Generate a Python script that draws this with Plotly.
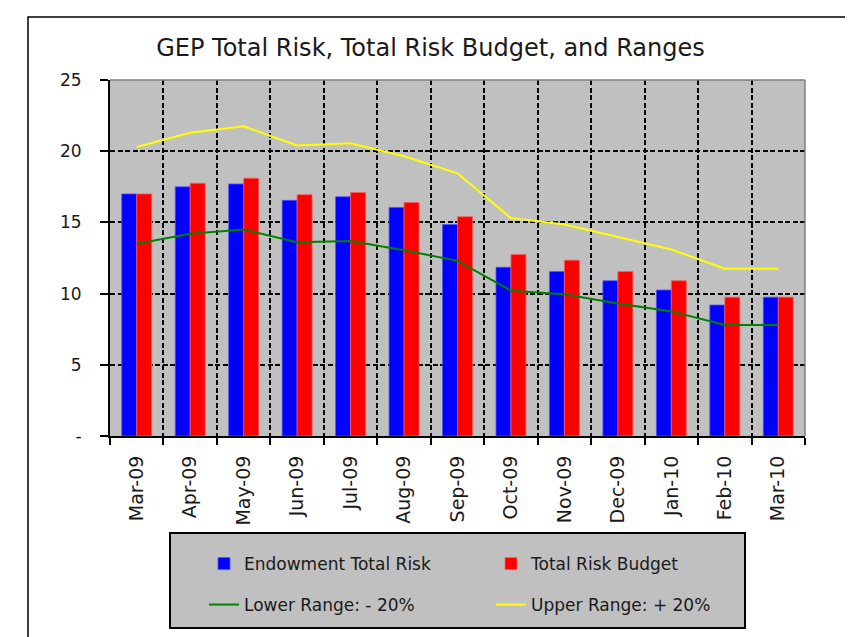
import plotly.graph_objects as go

months = ["Mar-09", "Apr-09", "May-09", "Jun-09", "Jul-09", "Aug-09", "Sep-09",
          "Oct-09", "Nov-09", "Dec-09", "Jan-10", "Feb-10", "Mar-10"]
endowment_total_risk = [17.0, 17.5, 17.7, 16.55, 16.8, 16.05, 14.85,
                        11.85, 11.55, 10.9, 10.25, 9.2, 9.75]
total_risk_budget = [17.0, 17.75, 18.1, 16.95, 17.1, 16.4, 15.4,
                     12.75, 12.35, 11.55, 10.9, 9.75, 9.75]
lower_range = [13.5, 14.2, 14.5, 13.6, 13.7, 13.05, 12.3,
               10.2, 9.95, 9.3, 8.75, 7.8, 7.8]
upper_range = [20.3, 21.3, 21.75, 20.4, 20.55, 19.65, 18.45,
               15.3, 14.85, 14.0, 13.1, 11.75, 11.75]
y_tick_vals = [0, 5, 10, 15, 20, 25]
y_tick_text = ["-", "5", "10", "15", "20", "25"]

FONT = "DejaVu Sans"
TXT = "#1a1a1a"

# figure geometry (page has an 8px body margin)
W, H = 845, 629
L, R, T, B = 102, 48, 72, 201
PW, PH = W - L - R, H - T - B


def px(xf):
    return (xf - L) / PW


def py(yf):
    return (H - B - yf) / PH


fig = go.Figure()
fig.add_trace(go.Bar(x=months, y=endowment_total_risk, name="Endowment Total Risk",
                     marker=dict(color="#0000ff", line=dict(color="#5050ff", width=0.8)),
                     legend="legend"))
fig.add_trace(go.Bar(x=months, y=total_risk_budget, name="Total Risk Budget",
                     marker=dict(color="#ff0000", line=dict(color="#ff5a5a", width=0.8)),
                     legend="legend"))
fig.add_trace(go.Scatter(x=months, y=lower_range, name="Lower Range: - 20%", mode="lines",
                         line=dict(color="#008000", width=2), legend="legend2"))
fig.add_trace(go.Scatter(x=months, y=upper_range, name="Upper Range: + 20%", mode="lines",
                         line=dict(color="#ffff00", width=2), legend="legend2"))

legend_common = dict(orientation="h", xanchor="left", yanchor="middle",
                     bgcolor="rgba(0,0,0,0)", borderwidth=0,
                     entrywidth=242, traceorder="normal",
                     font=dict(family=FONT, size=17, color=TXT))

fig.update_layout(
    width=W, height=H,
    margin=dict(l=L, r=R, t=T, b=B),
    paper_bgcolor="white",
    plot_bgcolor="#c0c0c0",
    font=dict(family=FONT, size=17, color=TXT),
    title=dict(text="GEP Total Risk, Total Risk Budget, and Ranges",
               x=0.5, xref="container", xanchor="center",
               y=1 - 40 / H, yref="container", yanchor="middle",
               font=dict(family=FONT, size=24, color=TXT)),
    barmode="group", bargap=0.44, bargroupgap=0,
    showlegend=True,
    legend=dict(x=px(196), y=py(556), **legend_common),
    legend2=dict(x=px(196), y=py(597), **legend_common),
)

fig.update_xaxes(
    type="category", tickson="boundaries", tickangle=-90,
    showline=True, linecolor="black", linewidth=2,
    ticks="outside", ticklen=7, tickcolor="black", tickwidth=1.5,
    showgrid=True, gridcolor="black", griddash="5px,2.5px", gridwidth=1.5,
    tickfont=dict(family=FONT, size=19, color=TXT),
    ticklabelstandoff=10,
)
fig.update_yaxes(
    range=[0, 25], tickvals=y_tick_vals, ticktext=y_tick_text,
    showline=True, linecolor="black", linewidth=2,
    ticks="outside", ticklen=8, tickcolor="black", tickwidth=1.5,
    showgrid=True, gridcolor="black", griddash="5px,2.5px", gridwidth=1.5,
    zeroline=False,
    tickfont=dict(family=FONT, size=17, color=TXT),
    ticklabelstandoff=15,
)

# plot-area border (top and right) in gray
fig.add_shape(type="line", xref="x domain", yref="y domain", x0=0, x1=1, y0=1, y1=1,
              line=dict(color="#808080", width=1.5))
fig.add_shape(type="line", xref="x domain", yref="y domain", x0=1, x1=1, y0=0, y1=1,
              line=dict(color="#808080", width=1.5))
# legend box
fig.add_shape(type="rect", xref="paper", yref="paper",
              x0=px(162), x1=px(737), y0=py(620), y1=py(525),
              fillcolor="#c0c0c0", line=dict(color="black", width=2), layer="below")
# outer chart frame
fig.add_shape(type="rect", xref="paper", yref="paper",
              x0=px(20), x1=px(870), y0=py(660), y1=py(9),
              line=dict(color="black", width=1.5), layer="below")

fig.write_html("out.html")
